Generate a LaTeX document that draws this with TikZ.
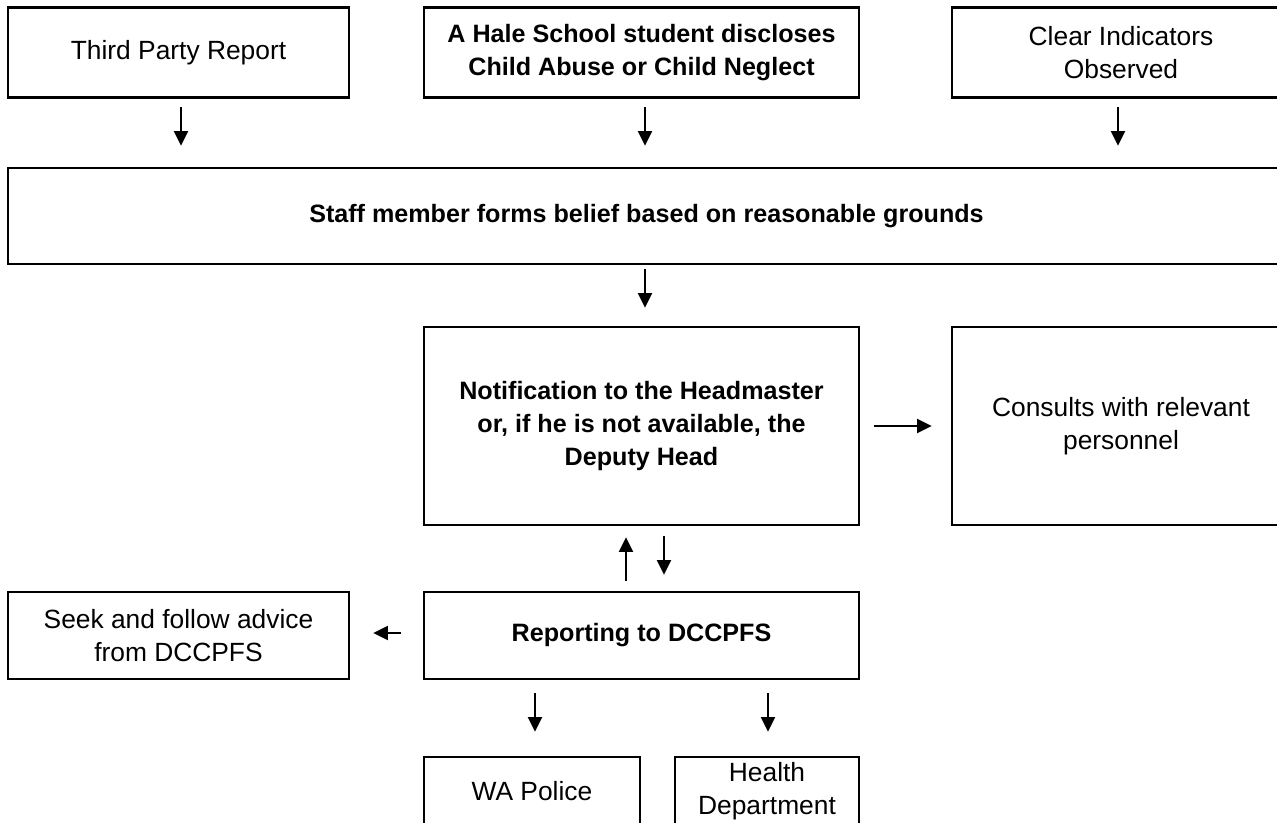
\documentclass[tikz,border=0pt]{standalone}
\usepackage{fontspec}
\setmainfont{Liberation Sans}
\usetikzlibrary{arrows.meta}

\tikzset{
  box/.style={draw, line width=1.5pt, align=center, inner sep=2pt,
    font=\fontsize{15}{18.8}\selectfont},
  boldbox/.style={box, font=\fontsize{14.3}{18.8}\selectfont\bfseries},
  arr/.style={-{Triangle[length=2.9mm,width=2.8mm]}, line width=1.1pt},
}

\begin{document}
\begin{tikzpicture}
\useasboundingbox (0,0) rectangle (25.54,-16.44);
\clip (0,0) rectangle (25.54,-16.44);

% top row
\node [box, minimum width=6.82cm, minimum height=1.8cm] (third) at (3.57,-1.05) {Third Party Report};
\node [boldbox, minimum width=8.70cm, minimum height=1.8cm] (hale) at (12.83,-1.05) {A Hale School student discloses\\Child Abuse or Child Neglect};
\node [box, minimum width=6.76cm, minimum height=1.8cm] (clear) at (22.42,-1.05) {Clear Indicators\\Observed};

% belief
\node [boldbox, minimum width=25.54cm, minimum height=1.92cm] (staff) at (12.93,-4.32) {Staff member forms belief based on reasonable grounds};

% notification and consults
\node [boldbox, minimum width=8.70cm, minimum height=3.96cm] (notif) at (12.83,-8.52) {Notification to the Headmaster\\or, if he is not available, the\\Deputy Head};
\node [box, minimum width=6.76cm, minimum height=3.96cm] (consult) at (22.42,-8.52) {Consults with relevant\\personnel};

% reporting row
\node [box, minimum width=6.82cm, minimum height=1.74cm] (seek) at (3.57,-12.71) {Seek and follow advice\\from DCCPFS};
\node [boldbox, minimum width=8.70cm, minimum height=1.74cm] (report) at (12.83,-12.71) {Reporting to DCCPFS};

% bottom row
\node [box, minimum width=4.32cm, minimum height=1.36cm] (police) at (10.64,-15.82) {WA Police};
\node [box, minimum width=3.68cm, minimum height=1.36cm] (health) at (15.34,-15.82) {Health\\Department};

% x positions of the arrows
\coordinate (xa) at (3.62,0);
\coordinate (xb) at (12.90,0);
\coordinate (xc) at (22.36,0);
\coordinate (xu) at (12.52,0);
\coordinate (xd) at (13.28,0);
\coordinate (xp) at (10.70,0);
\coordinate (xh) at (15.36,0);
\coordinate (yr) at (0,-8.52);
\coordinate (ys) at (0,-12.66);

% arrows
\draw [arr, shorten <=0.16cm, shorten >=0.42cm] (third.south -| xa) -- (staff.north -| xa);
\draw [arr, shorten <=0.16cm, shorten >=0.42cm] (hale.south -| xb) -- (staff.north -| xb);
\draw [arr, shorten <=0.16cm, shorten >=0.42cm] (clear.south -| xc) -- (staff.north -| xc);
\draw [arr, shorten <=0.08cm, shorten >=0.36cm] (staff.south -| xb) -- (notif.north -| xb);
\draw [arr, shorten <=0.28cm, shorten >=0.38cm] (notif.east |- yr) -- (consult.west |- yr);
\draw [arr, shorten <=0.20cm, shorten >=0.22cm] (report.north -| xu) -- (notif.south -| xu);
\draw [arr, shorten <=0.20cm, shorten >=0.32cm] (notif.south -| xd) -- (report.north -| xd);
\draw [arr, shorten <=0.44cm, shorten >=0.46cm] (report.west |- ys) -- (seek.east |- ys);
\draw [arr, shorten <=0.26cm, shorten >=0.48cm] (report.south -| xp) -- (police.north -| xp);
\draw [arr, shorten <=0.26cm, shorten >=0.48cm] (report.south -| xh) -- (health.north -| xh);

\end{tikzpicture}
\end{document}
